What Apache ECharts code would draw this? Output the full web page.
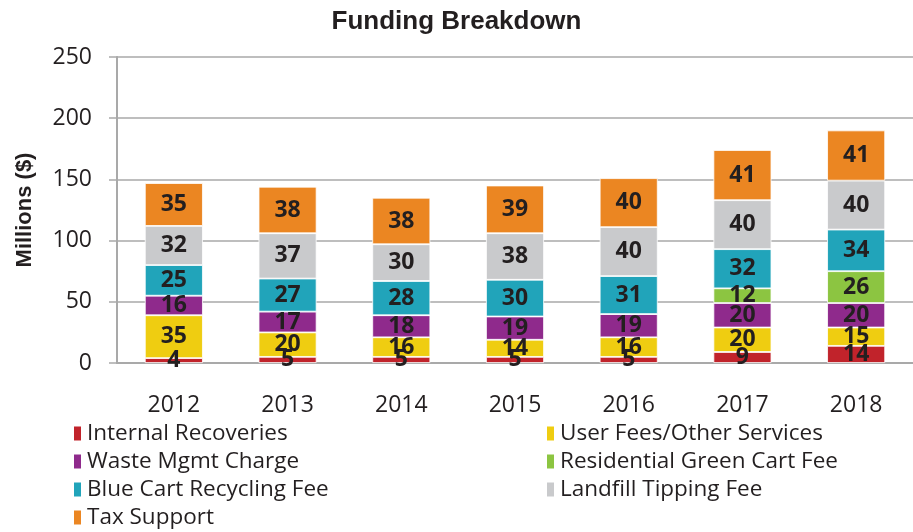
<!DOCTYPE html>
<html lang="en">
<head>
    <meta charset="UTF-8">
    <title>Funding Breakdown</title>
    <script src="https://cdn.jsdelivr.net/npm/echarts@6/dist/echarts.min.js"></script>
    <style>
        html, body { margin: 0; padding: 0; background: #fff; }
    </style>
</head>
<body>
    <div id="chart" style="width: 913px; height: 532px;"></div>
    <script>
        // data (millions $)
        const years = ['2012', '2013', '2014', '2015', '2016', '2017', '2018'];
        const internalRecoveries = [4, 5, 5, 5, 5, 9, 14];
        const userFees = [35, 20, 16, 14, 16, 20, 15];
        const wasteMgmt = [16, 17, 18, 19, 19, 20, 20];
        const greenCart = [0, 0, 0, 0, 0, 12, 26];
        const blueCart = [25, 27, 28, 30, 31, 32, 34];
        const landfill = [32, 37, 30, 38, 40, 40, 40];
        const taxSupport = [35, 38, 38, 39, 40, 41, 41];
        const yTicks = [0, 50, 100, 150, 200, 250];

        const txt = '#231f20';
        const grey = '#a9a9a9';
        const labelFont = '"Open Sans", "Noto Sans", sans-serif';

        function mkSeries(name, data, color) {
            return {
                name: name,
                type: 'bar',
                stack: 'total',
                barWidth: '51%',
                data: data,
                itemStyle: { color: color, borderColor: '#fff', borderWidth: 0.8 },
                label: {
                    show: true,
                    position: 'inside',
                    color: txt,
                    fontFamily: labelFont,
                    fontWeight: 'bold',
                    fontSize: 23,
                    formatter: p => (p.value ? p.value : '')
                },
                emphasis: { disabled: true }
            };
        }

        const chart = echarts.init(document.getElementById('chart'));

        const legendText = { color: txt, fontSize: 22.5, fontFamily: labelFont };

        chart.setOption({
            animation: false,
            title: {
                text: 'Funding Breakdown',
                left: 'center',
                top: 4,
                textStyle: { fontFamily: 'Liberation Sans, Arial, sans-serif', fontWeight: 'bold', fontSize: 26, color: txt }
            },
            legend: [
                {
                    orient: 'vertical',
                    left: 72,
                    top: 422,
                    height: 160,
                    padding: 0,
                    itemWidth: 9,
                    itemHeight: 16,
                    itemGap: 5,
                    icon: 'rect',
                    textStyle: legendText,
                    data: ['Internal Recoveries', 'Waste Mgmt Charge', 'Blue Cart Recycling Fee', 'Tax Support']
                },
                {
                    orient: 'vertical',
                    left: 545,
                    top: 422,
                    height: 160,
                    padding: 0,
                    itemWidth: 9,
                    itemHeight: 16,
                    itemGap: 5,
                    icon: 'rect',
                    textStyle: legendText,
                    data: ['User Fees/Other Services', 'Residential Green Cart Fee', 'Landfill Tipping Fee']
                }
            ],
            grid: { left: 117, right: -10, top: 57, bottom: 169 },
            xAxis: {
                type: 'category',
                data: years,
                axisTick: { show: false },
                axisLine: { lineStyle: { color: grey, width: 2 } },
                axisLabel: { color: txt, fontSize: 23, fontFamily: labelFont, margin: 31 }
            },
            yAxis: {
                type: 'value',
                min: yTicks[0],
                max: yTicks[yTicks.length - 1],
                interval: 50,
                name: 'Millions ($)',
                nameLocation: 'middle',
                nameGap: 81,
                nameTextStyle: { color: txt, fontSize: 22, fontWeight: 'bold', fontFamily: 'Liberation Sans, Arial, sans-serif' },
                axisLine: { show: true, lineStyle: { color: grey, width: 2 } },
                axisTick: { show: true, length: 8, lineStyle: { color: grey, width: 1.5 } },
                splitLine: { lineStyle: { color: grey, width: 1.5 } },
                axisLabel: { color: txt, fontSize: 23, fontFamily: labelFont, margin: 25 }
            },
            series: [
                mkSeries('Internal Recoveries', internalRecoveries, '#c1232b'),
                mkSeries('User Fees/Other Services', userFees, '#efcd11'),
                mkSeries('Waste Mgmt Charge', wasteMgmt, '#8f2a8c'),
                mkSeries('Residential Green Cart Fee', greenCart, '#8cc541'),
                mkSeries('Blue Cart Recycling Fee', blueCart, '#21a4ba'),
                mkSeries('Landfill Tipping Fee', landfill, '#c9cacc'),
                mkSeries('Tax Support', taxSupport, '#eb8622')
            ]
        });

        window.addEventListener('resize', function () {
            chart.resize();
        });
    </script>
</body>
</html>
